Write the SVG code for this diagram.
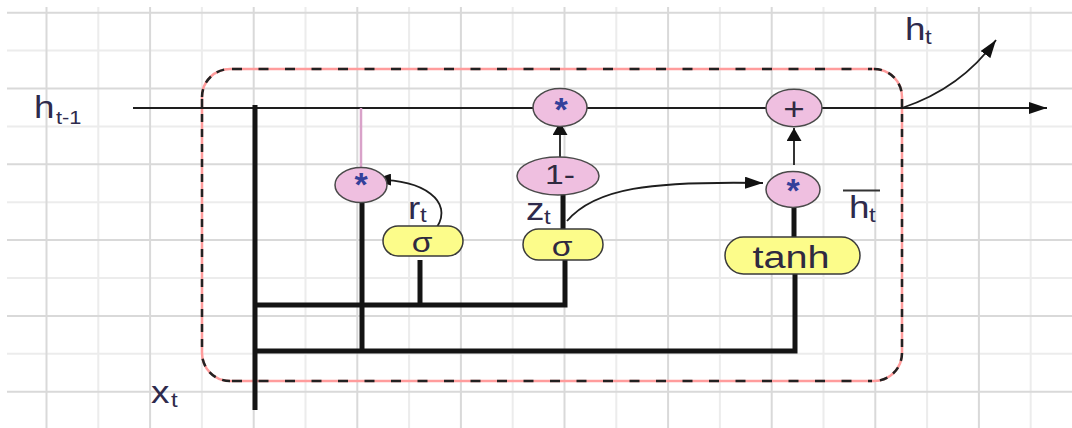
<svg xmlns="http://www.w3.org/2000/svg" width="1072" height="428" viewBox="0 0 1072 428">
  <style>
    .gd { stroke: #d9d9d9; stroke-width: 2; }
    .gl { stroke: #ececec; stroke-width: 2; }
    .thin { fill: none; stroke: #1e1e1e; stroke-width: 1.8; }
    .thick { fill: none; stroke: #141414; stroke-width: 5; stroke-linejoin: miter; stroke-linecap: butt; }
    .op { fill: #efbfe0; stroke: #4a4a4a; stroke-width: 1.5; }
    .act { fill: #fcfc8a; stroke: #3a3a3a; stroke-width: 1.5; }
    .lbl { font-family: "Liberation Sans", Arial, sans-serif; fill: #2e2a4c; }
    .star { font-family: "Liberation Sans", Arial, sans-serif; font-size: 34px; font-weight: bold; fill: #34409a; text-anchor: middle; }
    .sym { font-family: "Liberation Sans", Arial, sans-serif; fill: #2f2a40; text-anchor: middle; }
  </style>
  <defs>
    <marker id="arr" viewBox="0 0 18 12" refX="18" refY="6" markerWidth="18" markerHeight="12" markerUnits="userSpaceOnUse" orient="auto">
      <path d="M0,0 L18,6 L0,12 z" fill="#111"/>
    </marker>
    <marker id="arrS" viewBox="0 0 13 15" refX="13" refY="7.5" markerWidth="13" markerHeight="15" markerUnits="userSpaceOnUse" orient="auto">
      <path d="M0,0 L13,7.5 L0,15 z" fill="#111"/>
    </marker>
  </defs>

  <rect width="1072" height="428" fill="#ffffff"/>

  <!-- background grid -->
  <g id="grid">
    <line class="gl" x1="98.3" y1="7" x2="98.3" y2="428"/>
    <line class="gl" x1="201.9" y1="7" x2="201.9" y2="428"/>
    <line class="gl" x1="305.5" y1="7" x2="305.5" y2="428"/>
    <line class="gl" x1="409.1" y1="7" x2="409.1" y2="428"/>
    <line class="gl" x1="512.7" y1="7" x2="512.7" y2="428"/>
    <line class="gl" x1="616.3" y1="7" x2="616.3" y2="428"/>
    <line class="gl" x1="719.9" y1="7" x2="719.9" y2="428"/>
    <line class="gl" x1="823.5" y1="7" x2="823.5" y2="428"/>
    <line class="gl" x1="927.1" y1="7" x2="927.1" y2="428"/>
    <line class="gl" x1="1030.7" y1="7" x2="1030.7" y2="428"/>
    <line class="gl" x1="7" y1="50.6" x2="1072" y2="50.6"/>
    <line class="gl" x1="7" y1="126.4" x2="1072" y2="126.4"/>
    <line class="gl" x1="7" y1="202.2" x2="1072" y2="202.2"/>
    <line class="gl" x1="7" y1="278" x2="1072" y2="278"/>
    <line class="gl" x1="7" y1="353.8" x2="1072" y2="353.8"/>
    <line class="gd" x1="46.5" y1="7" x2="46.5" y2="428"/>
    <line class="gd" x1="150.1" y1="7" x2="150.1" y2="428"/>
    <line class="gd" x1="253.7" y1="7" x2="253.7" y2="428"/>
    <line class="gd" x1="357.3" y1="7" x2="357.3" y2="428"/>
    <line class="gd" x1="460.9" y1="7" x2="460.9" y2="428"/>
    <line class="gd" x1="564.5" y1="7" x2="564.5" y2="428"/>
    <line class="gd" x1="668.1" y1="7" x2="668.1" y2="428"/>
    <line class="gd" x1="771.7" y1="7" x2="771.7" y2="428"/>
    <line class="gd" x1="875.3" y1="7" x2="875.3" y2="428"/>
    <line class="gd" x1="978.9" y1="7" x2="978.9" y2="428"/>
    <line class="gd" x1="7" y1="12.7" x2="1072" y2="12.7"/>
    <line class="gd" x1="7" y1="88.5" x2="1072" y2="88.5"/>
    <line class="gd" x1="7" y1="164.3" x2="1072" y2="164.3"/>
    <line class="gd" x1="7" y1="240.1" x2="1072" y2="240.1"/>
    <line class="gd" x1="7" y1="315.9" x2="1072" y2="315.9"/>
    <line class="gd" x1="7" y1="391.7" x2="1072" y2="391.7"/>
  </g>

  <!-- cell boundary: pink outline with black dashes -->
  <g id="cell-boundary">
    <rect x="202" y="69" width="700" height="312" rx="28" ry="28" fill="none" stroke="#ff9c9c" stroke-width="2.5"/>
    <g fill="none" stroke="#222" stroke-width="2.5">
      <line x1="232" y1="69" x2="872" y2="69" stroke-dasharray="10 16.5"/>
      <line x1="232" y1="381" x2="872" y2="381" stroke-dasharray="10 16.5"/>
      <line x1="202" y1="99" x2="202" y2="351" stroke-dasharray="8 7"/>
      <line x1="902" y1="99" x2="902" y2="351" stroke-dasharray="8 7"/>
      <path d="M202,97 A28,28 0 0 1 230,69" stroke-dasharray="8 7"/>
      <path d="M874,69 A28,28 0 0 1 902,97" stroke-dasharray="8 7"/>
      <path d="M902,353 A28,28 0 0 1 874,381" stroke-dasharray="8 7"/>
      <path d="M230,381 A28,28 0 0 1 202,353" stroke-dasharray="8 7"/>
    </g>
  </g>

  <!-- connectors -->
  <g id="connectors">
    <path class="thin" d="M133,108 H1047" marker-end="url(#arr)"/>
    <path d="M361,108 V167" fill="none" stroke="#d9a2c9" stroke-width="2.5"/>
    <path class="thick" d="M255,105 V410"/>
    <path class="thick" d="M255,305 H565 V258"/>
    <path class="thick" d="M420,260 V305"/>
    <path class="thick" d="M255,351 H795 V274"/>
    <path class="thick" d="M362,202 V353"/>
    <path class="thick" d="M563,229 V194"/>
    <path class="thick" d="M794,206 V238"/>
    <path class="thin" d="M560,157 V122" marker-end="url(#arrS)"/>
    <path class="thin" d="M794,165 V128" marker-end="url(#arrS)"/>
    <path class="thin" d="M437,227 C453,202 425,179 373,180" marker-end="url(#arr)"/>
    <path class="thin" d="M567,221 C595,188 650,181 763,183" marker-end="url(#arr)"/>
    <path class="thin" d="M902,108 C935,97 970,76 996,40" marker-end="url(#arr)"/>
  </g>

  <!-- operation nodes -->
  <g id="mul-reset">
    <ellipse class="op" cx="361" cy="185" rx="26" ry="17.5"/>
    <text class="star" x="361" y="196">*</text>
  </g>
  <g id="mul-update">
    <ellipse class="op" cx="560" cy="107.5" rx="27" ry="19"/>
    <text class="star" x="561" y="121">*</text>
  </g>
  <g id="one-minus">
    <ellipse class="op" cx="558" cy="176" rx="41" ry="19"/>
    <text class="sym" font-size="28" transform="translate(560,184) scale(1.2,1)">1-</text>
  </g>
  <g id="add">
    <ellipse class="op" cx="794" cy="108" rx="28" ry="18.7"/>
    <text class="sym" font-size="32" fill="#3c2f6a" transform="translate(794,119.5) scale(1.15,1)">+</text>
  </g>
  <g id="mul-cand">
    <ellipse class="op" cx="793" cy="189.5" rx="27" ry="18"/>
    <text class="star" x="793" y="202">*</text>
  </g>

  <!-- activation nodes -->
  <g id="sigma-r">
    <rect class="act" x="383" y="226" width="80" height="30" rx="15" ry="15"/>
    <text class="sym" font-size="28" transform="translate(422,252) scale(1.2,1)">σ</text>
  </g>
  <g id="sigma-z">
    <rect class="act" x="523" y="229" width="80" height="31" rx="15.5" ry="15.5"/>
    <text class="sym" font-size="28" transform="translate(562,256) scale(1.2,1)">σ</text>
  </g>
  <g id="tanh">
    <rect class="act" x="725" y="237" width="135" height="37" rx="18.5" ry="18.5"/>
    <text class="sym" font-size="31" transform="translate(791,268) scale(1.28,1)">tanh</text>
  </g>

  <!-- labels -->
  <g id="labels">
    <text class="lbl" font-size="32" transform="translate(34,118) scale(1.15,1)">h</text>
    <text class="lbl" font-size="19" transform="translate(56,124) scale(1.15,1)">t-1</text>

    <text class="lbl" font-size="32" transform="translate(905,40) scale(1.15,1)">h</text>
    <text class="lbl" font-size="21" transform="translate(925,44) scale(1.15,1)">t</text>

    <text class="lbl" font-size="32" transform="translate(151,403) scale(1.15,1)">x</text>
    <text class="lbl" font-size="21" transform="translate(171,407) scale(1.15,1)">t</text>

    <text class="lbl" font-size="32" transform="translate(408,219) scale(1.15,1)">r</text>
    <text class="lbl" font-size="21" transform="translate(420,222) scale(1.15,1)">t</text>

    <text class="lbl" font-size="32" transform="translate(526,220) scale(1.15,1)">z</text>
    <text class="lbl" font-size="21" transform="translate(544,224) scale(1.15,1)">t</text>

    <line x1="843" y1="190.5" x2="880" y2="190.5" stroke="#333" stroke-width="2"/>
    <text class="lbl" font-size="32" transform="translate(849,218) scale(1.15,1)">h</text>
    <text class="lbl" font-size="21" transform="translate(869,222) scale(1.15,1)">t</text>
  </g>
</svg>
